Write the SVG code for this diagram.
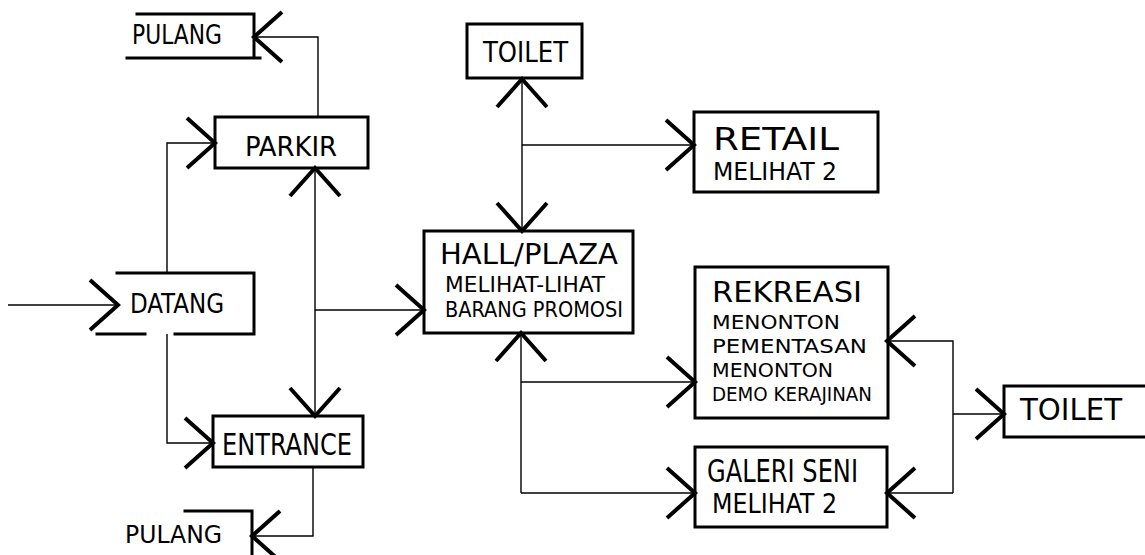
<svg xmlns="http://www.w3.org/2000/svg" width="1145" height="555" viewBox="0 0 1145 555">
<style>
.box{fill:none;stroke:#000;stroke-width:3;stroke-linecap:square}
.edge{fill:none;stroke:#000;stroke-width:1.4}
.t{font-family:"DejaVu Sans Condensed","Liberation Sans",sans-serif;fill:#000}
</style>
<defs>
<marker id="ah" markerUnits="userSpaceOnUse" markerWidth="40" markerHeight="60" refX="0" refY="0" viewBox="-32 -30 36 60" orient="auto-start-reverse">
<path d="M -28 -25 L 0 0 L -28 25" fill="none" stroke="#000" stroke-width="4" stroke-linejoin="miter"/>
</marker>
</defs>
<rect width="1145" height="555" fill="#fff"/>

<g id="connectors">
<path class="edge" d="M 8 305 L 118 305" marker-end="url(#ah)"/>
<path class="edge" d="M 167 273 L 167 143 L 215 143" marker-end="url(#ah)"/>
<path class="edge" d="M 167 334 L 167 443 L 213 443" marker-end="url(#ah)"/>
<path class="edge" d="M 318 117 L 318 37 L 254 37" marker-end="url(#ah)"/>
<path class="edge" d="M 313 467 L 313 536 L 252 536" marker-end="url(#ah)"/>
<path class="edge" d="M 315 168 L 315 416" marker-start="url(#ah)" marker-end="url(#ah)"/>
<path class="edge" d="M 315 310 L 424 310" marker-end="url(#ah)"/>
<path class="edge" d="M 522 79 L 522 231" marker-start="url(#ah)" marker-end="url(#ah)"/>
<path class="edge" d="M 522 145 L 694 145" marker-end="url(#ah)"/>
<path class="edge" d="M 521 493 L 521 333" marker-end="url(#ah)"/>
<path class="edge" d="M 521 382 L 695 382" marker-end="url(#ah)"/>
<path class="edge" d="M 521 493 L 695 493" marker-end="url(#ah)"/>
<path class="edge" d="M 953 493 L 953 341 L 887 341" marker-end="url(#ah)"/>
<path class="edge" d="M 953 414 L 1004 414" marker-end="url(#ah)"/>
<path class="edge" d="M 953 493 L 887 493" marker-end="url(#ah)"/>
</g>

<g id="pulang-top">
<path class="box" d="M 137 14 L 254 14 L 254 58 M 127 58 L 260 58"/>
<text class="t" x="132" y="44" font-size="26" textLength="90" lengthAdjust="spacingAndGlyphs">PULANG</text>
</g>

<g id="parkir">
<rect class="box" x="215" y="117" width="153" height="51"/>
<text class="t" x="245" y="156" font-size="26" textLength="92" lengthAdjust="spacingAndGlyphs">PARKIR</text>
</g>

<g id="datang">
<path class="box" d="M 117 273 L 254 273 L 254 334 M 97 334 L 145 334 M 175 334 L 254 334"/>
<text class="t" x="130" y="313" font-size="26" textLength="94" lengthAdjust="spacingAndGlyphs">DATANG</text>
</g>

<g id="entrance">
<rect class="box" x="213" y="416" width="150" height="51"/>
<text class="t" x="222" y="455" font-size="30" textLength="130" lengthAdjust="spacingAndGlyphs">ENTRANCE</text>
</g>

<g id="pulang-bottom">
<path class="box" d="M 185 511 L 252 511 L 252 555"/>
<text class="t" x="125" y="543" font-size="25" textLength="97" lengthAdjust="spacingAndGlyphs">PULANG</text>
</g>

<g id="toilet-top">
<rect class="box" x="467" y="24" width="115" height="54"/>
<text class="t" x="483" y="62" font-size="28" textLength="85" lengthAdjust="spacingAndGlyphs">TOILET</text>
</g>

<g id="retail">
<rect class="box" x="694" y="112" width="184" height="80"/>
<text class="t" x="713" y="150" font-size="32" textLength="126" lengthAdjust="spacingAndGlyphs">RETAIL</text>
<text class="t" x="713" y="180" font-size="24" textLength="124" lengthAdjust="spacingAndGlyphs">MELIHAT 2</text>
</g>

<g id="hall-plaza">
<rect class="box" x="424" y="231" width="209" height="102"/>
<text class="t" x="440" y="264" font-size="29" textLength="178" lengthAdjust="spacingAndGlyphs">HALL/PLAZA</text>
<text class="t" x="445" y="292" font-size="21" textLength="160" lengthAdjust="spacingAndGlyphs">MELIHAT-LIHAT</text>
<text class="t" x="445" y="317" font-size="21" textLength="178" lengthAdjust="spacingAndGlyphs">BARANG PROMOSI</text>
</g>

<g id="rekreasi">
<rect class="box" x="695" y="267" width="193" height="151"/>
<text class="t" x="712" y="302" font-size="28" textLength="150" lengthAdjust="spacingAndGlyphs">REKREASI</text>
<text class="t" x="712" y="329" font-size="20" textLength="128" lengthAdjust="spacingAndGlyphs">MENONTON</text>
<text class="t" x="712" y="353" font-size="20" textLength="155" lengthAdjust="spacingAndGlyphs">PEMENTASAN</text>
<text class="t" x="712" y="377" font-size="20" textLength="121" lengthAdjust="spacingAndGlyphs">MENONTON</text>
<text class="t" x="712" y="401" font-size="20" textLength="160" lengthAdjust="spacingAndGlyphs">DEMO KERAJINAN</text>
</g>

<g id="galeri-seni">
<rect class="box" x="695" y="447" width="192" height="80"/>
<text class="t" x="707" y="482" font-size="32" textLength="151" lengthAdjust="spacingAndGlyphs">GALERI SENI</text>
<text class="t" x="712" y="513" font-size="26" textLength="125" lengthAdjust="spacingAndGlyphs">MELIHAT 2</text>
</g>

<g id="toilet-right">
<path class="box" d="M 1145 386 L 1004 386 L 1004 437 L 1145 437"/>
<text class="t" x="1020" y="420" font-size="30" textLength="102" lengthAdjust="spacingAndGlyphs">TOILET</text>
</g>
</svg>
